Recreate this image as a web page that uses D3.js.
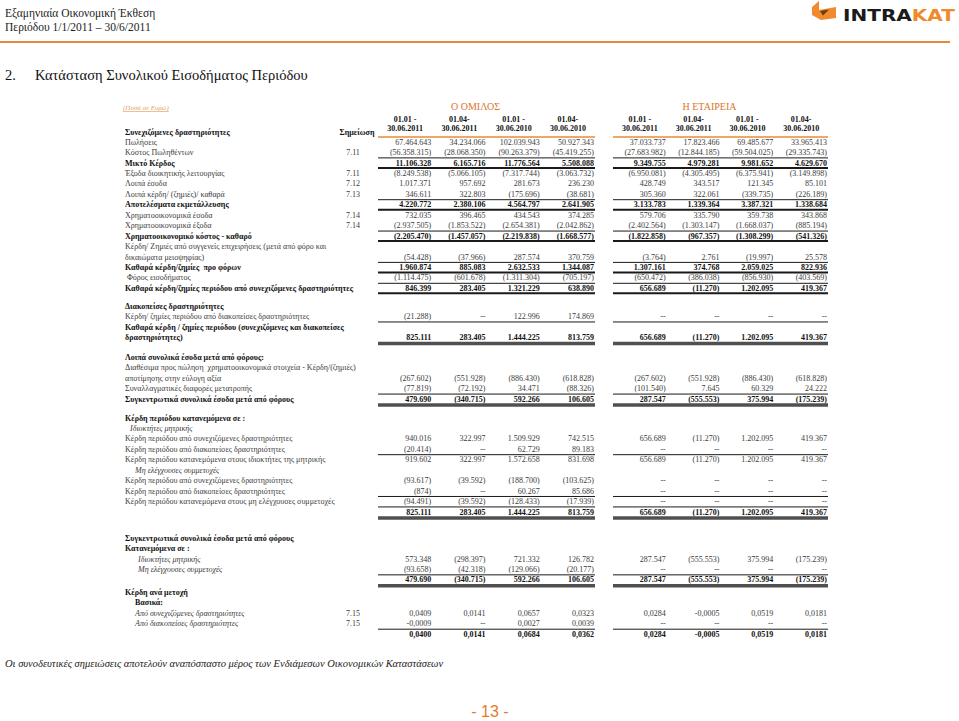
<!DOCTYPE html>
<html>
<head>
<meta charset="utf-8">
<script src="https://cdn.jsdelivr.net/npm/d3@7"></script>
<style>
body { margin: 0; background: #fff; }
svg { display: block; font-family: "Liberation Serif", "DejaVu Serif", serif; }
</style>
</head>
<body>
<script>
// Column headings
var entities = ["Ο ΟΜΙΛΟΣ", "Η ΕΤΑΙΡΕΙΑ"];
var periodsTop = ["01.01 -", "01.04-", "01.01 -", "01.04-"];
var periodsBottom = ["30.06.2011", "30.06.2011", "30.06.2010", "30.06.2010"];

// Row labels (two-line labels as arrays)
var rowLabels = [
    "Πωλήσεις",
    "Κόστος Πωληθέντων",
    "Μικτό Κέρδος",
    "Έξοδα διοικητικής λειτουργίας",
    "Λοιπά έσοδα",
    "Λοιπά κέρδη/ (ζημιές)/ καθαρά",
    "Αποτελέσματα εκμετάλλευσης",
    "Χρηματοοικονομικά έσοδα",
    "Χρηματοοικονομικά έξοδα",
    "Χρηματοοικονομικό κόστος - καθαρό",
    ["Κέρδη/ Ζημιές από συγγενείς επιχειρήσεις (μετά από φόρο και", "δικαιώματα μειοψηφίας)"],
    "Καθαρά κέρδη/ζημίες  προ φόρων",
    " Φόρος εισοδήματος",
    "Καθαρά κέρδη/ζημίες περιόδου από συνεχιζόμενες δραστηριότητες",
    "Διακοπείσες δραστηριότητες",
    "Κέρδη/ ζημίες περιόδου από διακοπείσες δραστηριότητες",
    ["Καθαρά κέρδη / ζημίες περιόδου (συνεχιζόμενες και διακοπείσες", "δραστηριότητες)"],
    "Λοιπά συνολικά έσοδα μετά από φόρους:",
    ["Διαθέσιμα προς πώληση  χρηματοοικονομικά στοιχεία - Κέρδη/(ζημιές)", "αποτίμησης στην εύλογη αξία"],
    "Συναλλαγματικές διαφορές μετατροπής",
    "Συγκεντρωτικά συνολικά έσοδα μετά από φόρους",
    "Κέρδη περιόδου κατανεμόμενα σε :",
    "Ιδιοκτήτες μητρικής",
    "Κέρδη περιόδου από συνεχιζόμενες δραστηριότητες",
    "Κέρδη περιόδου από διακοπείσες δραστηριότητες",
    "Κέρδη περιόδου κατανεμόμενα στους ιδιοκτήτες της μητρικής",
    "Μη ελέγχουσες συμμετοχές",
    "Κέρδη περιόδου από συνεχιζόμενες δραστηριότητες",
    "Κέρδη περιόδου από διακοπείσες δραστηριότητες",
    "Κέρδη περιόδου κατανεμόμενα στους μη ελέγχουσες συμμετοχές",
    "",
    "Συγκεντρωτικά συνολικά έσοδα μετά από φόρους",
    "Κατανεμόμενα σε :",
    "Ιδιοκτήτες μητρικής",
    "Μη ελέγχουσες συμμετοχές",
    "",
    "Κέρδη ανά μετοχή",
    "Βασικά:",
    "Από συνεχιζόμενες δραστηριότητες",
    "Από διακοπείσες δραστηριότητες",
    ""
];

var rowNotes = ["", "7.11", "", "7.11", "7.12", "7.13", "", "7.14", "7.14", "",
    "", "", "", "", "", "", "", "", "", "", "", "", "", "", "", "", "", "", "", "",
    "", "", "", "", "", "", "", "", "7.15", "7.15", ""];

// Ο ΟΜΙΛΟΣ (null row = no figures, null cell = "--")
var groupValues = [
    [67464643, 34234066, 102039943, 50927343],
    [-56358315, -28068350, -90263379, -45419255],
    [11106328, 6165716, 11776564, 5508088],
    [-8249538, -5066105, -7317744, -3063732],
    [1017371, 957692, 281673, 236230],
    [346611, 322803, -175696, -38681],
    [4220772, 2380106, 4564797, 2641905],
    [732035, 396465, 434543, 374285],
    [-2937505, -1853522, -2654381, -2042862],
    [-2205470, -1457057, -2219838, -1668577],
    [-54428, -37966, 287574, 370759],
    [1960874, 885083, 2632533, 1344087],
    [-1114475, -601678, -1311304, -705197],
    [846399, 283405, 1321229, 638890],
    null,
    [-21288, null, 122996, 174869],
    [825111, 283405, 1444225, 813759],
    null,
    [-267602, -551928, -886430, -618828],
    [-77819, -72192, 34471, -88326],
    [479690, -340715, 592266, 106605],
    null,
    null,
    [940016, 322997, 1509929, 742515],
    [-20414, null, 62729, 89183],
    [919602, 322997, 1572658, 831698],
    null,
    [-93617, -39592, -188700, -103625],
    [-874, null, 60267, 85686],
    [-94491, -39592, -128433, -17939],
    [825111, 283405, 1444225, 813759],
    null,
    null,
    [573348, -298397, 721332, 126782],
    [-93658, -42318, -129066, -20177],
    [479690, -340715, 592266, 106605],
    null,
    null,
    [0.0409, 0.0141, 0.0657, 0.0323],
    [-0.0009, null, 0.0027, 0.0039],
    [0.0400, 0.0141, 0.0684, 0.0362]
];

// Η ΕΤΑΙΡΕΙΑ
var companyValues = [
    [37033737, 17823466, 69485677, 33965413],
    [-27683982, -12844185, -59504025, -29335743],
    [9349755, 4979281, 9981652, 4629670],
    [-6950081, -4305495, -6375941, -3149898],
    [428749, 343517, 121345, 85101],
    [305360, 322061, -339735, -226189],
    [3133783, 1339364, 3387321, 1338684],
    [579706, 335790, 359738, 343868],
    [-2402564, -1303147, -1668037, -885194],
    [-1822858, -967357, -1308299, -541326],
    [-3764, 2761, -19997, 25578],
    [1307161, 374768, 2059025, 822936],
    [-650472, -386038, -856930, -403569],
    [656689, -11270, 1202095, 419367],
    null,
    [null, null, null, null],
    [656689, -11270, 1202095, 419367],
    null,
    [-267602, -551928, -886430, -618828],
    [-101540, 7645, 60329, 24222],
    [287547, -555553, 375994, -175239],
    null,
    null,
    [656689, -11270, 1202095, 419367],
    [null, null, null, null],
    [656689, -11270, 1202095, 419367],
    null,
    [null, null, null, null],
    [null, null, null, null],
    [null, null, null, null],
    [656689, -11270, 1202095, 419367],
    null,
    null,
    [287547, -555553, 375994, -175239],
    [null, null, null, null],
    [287547, -555553, 375994, -175239],
    null,
    null,
    [0.0284, -0.0005, 0.0519, 0.0181],
    [null, null, null, null],
    [0.0284, -0.0005, 0.0519, 0.0181]
];

// Row styling: b = bold, i = italic, ind = indent, gap = extra space before (in rows),
// above/below = rule lines, eps = per-share format
var rowStyle = {
    2: {b: 1, above: "thin", below: "thick"},
    6: {b: 1, above: "thin", below: "thick"},
    9: {b: 1, above: "thin", below: "thick"},
    11: {b: 1, above: "thin", below: "thick"},
    13: {b: 1, above: "thin", below: "thick"},
    14: {b: 1, gap: 0.7},
    16: {b: 1, above: "thin", below: "double"},
    17: {b: 1, gap: 0.9},
    20: {b: 1, above: "thin", below: "double"},
    21: {b: 1, gap: 0.8},
    22: {i: 1, ind: 5},
    25: {above: "thin"},
    26: {i: 1, ind: 10},
    29: {above: "thin"},
    30: {b: 1, above: "thin", below: "double"},
    31: {b: 1, gap: 1.5},
    32: {b: 1},
    33: {i: 1, ind: 13},
    34: {i: 1, ind: 13},
    35: {b: 1, above: "thin", below: "double"},
    36: {b: 1, gap: 0.2},
    37: {b: 1, ind: 10},
    38: {i: 1, ind: 10, eps: 1},
    39: {i: 1, ind: 10, eps: 1},
    40: {b: 1, above: "thin", eps: 1}
};

var width = 959;
var height = 721;
var orange = "#E8792B";

var svg = d3.select("body").append("svg")
    .attr("width", width)
    .attr("height", height);

svg.append("rect").attr("width", width).attr("height", height).attr("fill", "#fff");

// ---- page header ----
svg.append("text").attr("x", 5).attr("y", 17)
    .style("font-size", "11.5px").attr("fill", "#222")
    .text("Εξαμηνιαία Οικονομική Έκθεση");
svg.append("text").attr("x", 5).attr("y", 31)
    .style("font-size", "11.5px").attr("fill", "#222")
    .text("Περιόδου 1/1/2011 – 30/6/2011");

svg.append("line")
    .attr("x1", 0).attr("x2", 950).attr("y1", 42).attr("y2", 42)
    .attr("stroke", "#E8883A").attr("stroke-width", 2);

// logo
var logo = svg.append("g");
logo.append("path")
    .attr("d", "M812,7 L819,1 L819,10 L836,7 L836,18 L821,20 L812,15 Z")
    .attr("fill", "#F08A2C");
logo.append("path")
    .attr("d", "M820,11 L829,9.5 L823,15.5 Z")
    .attr("fill", "#6B3A12");
var logoText = logo.append("text")
    .attr("x", 843).attr("y", 21)
    .attr("textLength", 112).attr("lengthAdjust", "spacingAndGlyphs")
    .style("font-family", "'DejaVu Sans', sans-serif")
    .style("font-weight", "bold").style("font-size", "15px");
logoText.append("tspan").attr("fill", "#1a1a1a").text("INTRA");
logoText.append("tspan").attr("fill", "#F08A2C").text("KAT");

// title
svg.append("text").attr("x", 5).attr("y", 80)
    .style("font-size", "14.5px").attr("fill", "#111").text("2.");
svg.append("text").attr("x", 35).attr("y", 80)
    .style("font-size", "14.5px").attr("fill", "#111")
    .text("Κατάσταση Συνολικού Εισοδήματος Περιόδου");

// ---- table scales ----
var blocks = [
    {name: entities[0], values: groupValues, x: d3.scaleBand().domain(d3.range(4)).range([378, 595])},
    {name: entities[1], values: companyValues, x: d3.scaleBand().domain(d3.range(4)).range([613, 828])}
];

// assign a row unit to every row
var rows = [];
var u = 0;
rowLabels.forEach(function(label, i) {
    var st = rowStyle[i] || {};
    u += st.gap || 0;
    var lines = Array.isArray(label) ? label : [label];
    rows.push({i: i, lines: lines, u: u, last: u + lines.length - 1, st: st});
    u += lines.length;
});

var y = d3.scaleLinear().domain([0, 1]).range([142, 152.45]);

var locale = d3.formatLocale({decimal: ",", thousands: ".", grouping: [3], currency: ["", ""], minus: "-"});
var fmtInt = locale.format(",.0f");
var fmtEps = locale.format(".4f");
function fmt(v, eps) {
    if (v === null) return "--";
    if (eps) return fmtEps(v);
    return v < 0 ? "(" + fmtInt(-v) + ")" : fmtInt(v);
}

var table = svg.append("g").style("font-size", "8px");

// "(Ποσά σε Ευρώ)"
table.append("text").attr("x", 123).attr("y", 110)
    .style("font-size", "7px").style("font-style", "italic")
    .style("text-decoration", "underline")
    .attr("fill", "#E3A46A").text("(Ποσά σε Ευρώ)");

// block headings
blocks.forEach(function(b) {
    var r = b.x.range();
    var cx = (r[0] + r[1]) / 2 - 11;
    table.append("text").attr("x", cx).attr("y", 110)
        .attr("text-anchor", "middle").style("font-size", "10px")
        .attr("fill", "#D9752C").text(b.name);

    var head = table.append("g").selectAll("g").data(d3.range(4)).enter().append("g")
        .attr("transform", function(d) { return "translate(" + (b.x(d) + b.x.bandwidth() / 2) + ",0)"; })
        .style("font-weight", "bold").attr("fill", "#111").attr("text-anchor", "middle");
    head.append("text").attr("y", 122).text(function(d) { return periodsTop[d]; });
    head.append("text").attr("y", 131).text(function(d) { return periodsBottom[d]; });

    table.append("line")
        .attr("x1", r[0]).attr("x2", r[1]).attr("y1", 137).attr("y2", 137)
        .attr("stroke", "#F0A664").attr("stroke-width", 2);
});

table.append("text").attr("x", 125).attr("y", 135)
    .style("font-weight", "bold").attr("fill", "#111")
    .text("Συνεχιζόμενες δραστηριότητες");
table.append("text").attr("x", 357).attr("y", 135)
    .attr("text-anchor", "middle")
    .style("font-weight", "bold").attr("fill", "#111")
    .text("Σημείωση");

// row labels
var rowG = table.append("g").selectAll("g.row").data(rows).enter().append("g")
    .attr("class", "row")
    .style("font-weight", function(d) { return d.st.b ? "bold" : "normal"; })
    .style("font-style", function(d) { return d.st.i ? "italic" : "normal"; })
    .attr("fill", function(d) { return d.st.b ? "#111" : "#3a3a3a"; });

rowG.selectAll("text.lbl").data(function(d) {
        return d.lines.map(function(t, k) { return {t: t, u: d.u + k, ind: d.st.ind || 0}; });
    })
    .enter().append("text").attr("class", "lbl")
    .attr("x", function(d) { return 125 + d.ind; })
    .attr("y", function(d) { return y(d.u); })
    .attr("dy", "0.33em")
    .style("white-space", "pre")
    .text(function(d) { return d.t; });

rowG.append("text")
    .attr("x", 353).attr("y", function(d) { return y(d.last); })
    .attr("dy", "0.33em").attr("text-anchor", "middle")
    .style("font-style", "normal")
    .text(function(d) { return rowNotes[d.i]; });

// values and rules per block
blocks.forEach(function(b) {
    var r = b.x.range();
    rowG.filter(function(d) { return b.values[d.i] !== null; })
        .selectAll(null)
        .data(function(d) {
            return b.values[d.i].map(function(v, k) { return {v: v, k: k, row: d}; });
        })
        .enter().append("text")
        .attr("x", function(d) { return b.x(d.k) + b.x.bandwidth() - 1; })
        .attr("y", function(d) { return y(d.row.last); })
        .attr("dy", "0.33em").attr("text-anchor", "end")
        .style("font-style", "normal")
        .text(function(d) { return fmt(d.v, d.row.st.eps); });

    var rules = [];
    rows.forEach(function(d) {
        if (d.st.above) rules.push({y: y(d.u) - 5, kind: d.st.above});
        if (d.st.below) rules.push({y: y(d.last) + (d.st.below === "double" ? 6 : 5), kind: d.st.below});
    });
    table.append("g").selectAll("line").data(rules).enter().append("line")
        .attr("x1", r[0]).attr("x2", r[1])
        .attr("y1", function(d) { return d.y; }).attr("y2", function(d) { return d.y; })
        .attr("stroke", function(d) { return d.kind === "double" ? "#505050" : "#1a1a1a"; })
        .attr("stroke-width", function(d) { return d.kind === "thin" ? 1 : d.kind === "thick" ? 2 : 3.5; });
});

// ---- footer ----
svg.append("text").attr("x", 5).attr("y", 667)
    .style("font-size", "10.5px").style("font-style", "italic").attr("fill", "#222")
    .text("Οι συνοδευτικές σημειώσεις αποτελούν αναπόσπαστο μέρος των Ενδιάμεσων Οικονομικών Καταστάσεων");

svg.append("text").attr("x", 490).attr("y", 717)
    .attr("text-anchor", "middle")
    .style("font-family", "'Liberation Sans Narrow', 'Liberation Sans', sans-serif")
    .style("font-size", "16px").attr("fill", orange)
    .text("- 13 -");
</script>
</body>
</html>
